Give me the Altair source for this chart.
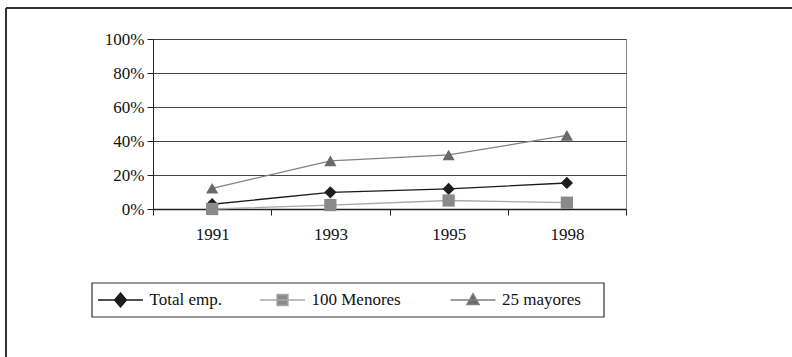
import altair as alt
import pandas as pd

years = ["1991", "1993", "1995", "1998"]
series = ["Total emp.", "100 Menores", "25 mayores"]
total_emp = [2.8, 9.8, 11.8, 15.3]
menores_100 = [0.0, 2.3, 5.0, 3.7]
mayores_25 = [12.2, 28.3, 31.8, 43.3]
y_ticks = [0, 20, 40, 60, 80, 100]

line_colors = ["#1a1a1a", "#a8a8a8", "#808080"]
marker_colors = ["#1e1e1e", "#8a8a8a", "#6a6a6a"]
marker_shapes = ["diamond", "square", "triangle-up"]
legend_paths = [
    "M-2.25,0H2.25M0,-0.7L0.6,0L0,0.7L-0.6,0Z",
    "M-2.25,0H2.25M-0.55,-0.55H0.55V0.55H-0.55Z",
    "M-2.25,0H2.25M0,-0.65L0.62,0.45H-0.62Z",
]

rows = []
for name, vals in zip(series, [total_emp, menores_100, mayores_25]):
    for yr, v in zip(years, vals):
        rows.append({"year": yr, "series": name, "value": v})
df = pd.DataFrame(rows)

# layout (pixels)
L, T, R, B = 153, 39, 626, 209
W, H = R - L, B - T
FONT = "Liberation Serif"
SYM = 400                      # legend symbol size -> 10px per path unit
leg_line_centers = [119.5, 281.5, 472.0]
leg_center_y = 300
box = (92, 283, 604, 317)

x_enc = alt.X(
    "year:O", sort=years,
    scale=alt.Scale(type="band", paddingInner=0, paddingOuter=0),
    axis=alt.Axis(title=None, labelAngle=0, tickBand="extent", tickSize=6,
                  tickColor="#222", domainColor="#222", domainWidth=1.5,
                  labelPadding=11, labelFontSize=17, labelFont=FONT,
                  labelColor="#111", grid=False),
)
y_enc = alt.Y(
    "value:Q",
    scale=alt.Scale(domain=[0, 100], nice=False),
    axis=alt.Axis(title=None, values=y_ticks, labelExpr="datum.value + '%'",
                  tickSize=6, tickColor="#222", domainColor="#222",
                  labelPadding=3, labelFontSize=17, labelFont=FONT,
                  labelColor="#111", grid=True, gridColor="#444",
                  gridWidth=1),
)

base = alt.Chart(df)

frame_data = pd.DataFrame({"k": [0]})
legend_box = alt.Chart(frame_data).mark_rect(fill="white", stroke="#333", strokeWidth=1.2).encode(
    x=alt.value(box[0] - L), x2=alt.value(box[2] - L),
    y=alt.value(box[1] - T), y2=alt.value(box[3] - T),
)

lines = base.mark_line(strokeWidth=1.3).encode(
    x=x_enc, y=y_enc,
    stroke=alt.Stroke("series:N", scale=alt.Scale(domain=series, range=line_colors), legend=None),
)

points = base.mark_point(filled=True, size=150, opacity=1).encode(
    x=x_enc, y=y_enc,
    fill=alt.Fill("series:N", scale=alt.Scale(domain=series, range=marker_colors), legend=None),
    shape=alt.Shape("series:N", scale=alt.Scale(domain=series, range=marker_shapes), legend=None),
)

legend_layers = []
for i, name in enumerate(series):
    lg = alt.Legend(title=None, orient="none",
                    legendX=leg_line_centers[i] - (SYM ** 0.5) / 2 - L,
                    legendY=leg_center_y - 11 - T)
    legend_layers.append(
        base.mark_point(filled=True).encode(
            x=x_enc, y=y_enc,
            shape=alt.Shape("series:N", scale=alt.Scale(domain=[name], range=[legend_paths[i]]), legend=lg),
            fill=alt.Fill("series:N", scale=alt.Scale(domain=[name], range=[marker_colors[i]]), legend=lg),
            stroke=alt.Stroke("series:N", scale=alt.Scale(domain=[name], range=[line_colors[i]]), legend=lg),
        ).transform_filter("false")
    )

frame_top = alt.Chart(frame_data).mark_rule(color="#333", strokeWidth=2).encode(
    x=alt.value(6 - L), x2=alt.value(792 - L), y=alt.value(8 - T)
)
frame_left = alt.Chart(frame_data).mark_rule(color="#333", strokeWidth=2).encode(
    x=alt.value(6 - L), y=alt.value(8 - T), y2=alt.value(357 - T)
)

chart = alt.layer(legend_box, lines, points, *legend_layers, frame_top, frame_left).resolve_scale(
    shape="independent", fill="independent", stroke="independent"
).resolve_legend(
    shape="independent", fill="independent", stroke="independent"
).properties(
    width=W, height=H,
    autosize=alt.AutoSizeParams(type="none"),
    padding={"left": L, "top": T, "right": 792 - R, "bottom": 357 - B},
    background="white",
).configure_view(
    stroke="#888", strokeWidth=1
).configure_legend(
    padding=0, symbolSize=SYM, symbolStrokeWidth=1.3, symbolOpacity=1,
    labelFont=FONT, labelFontSize=17, labelColor="#111", labelOffset=18,
    symbolType="circle",
)

chart.save("out.html", embed_options={"renderer": "svg", "actions": False})
